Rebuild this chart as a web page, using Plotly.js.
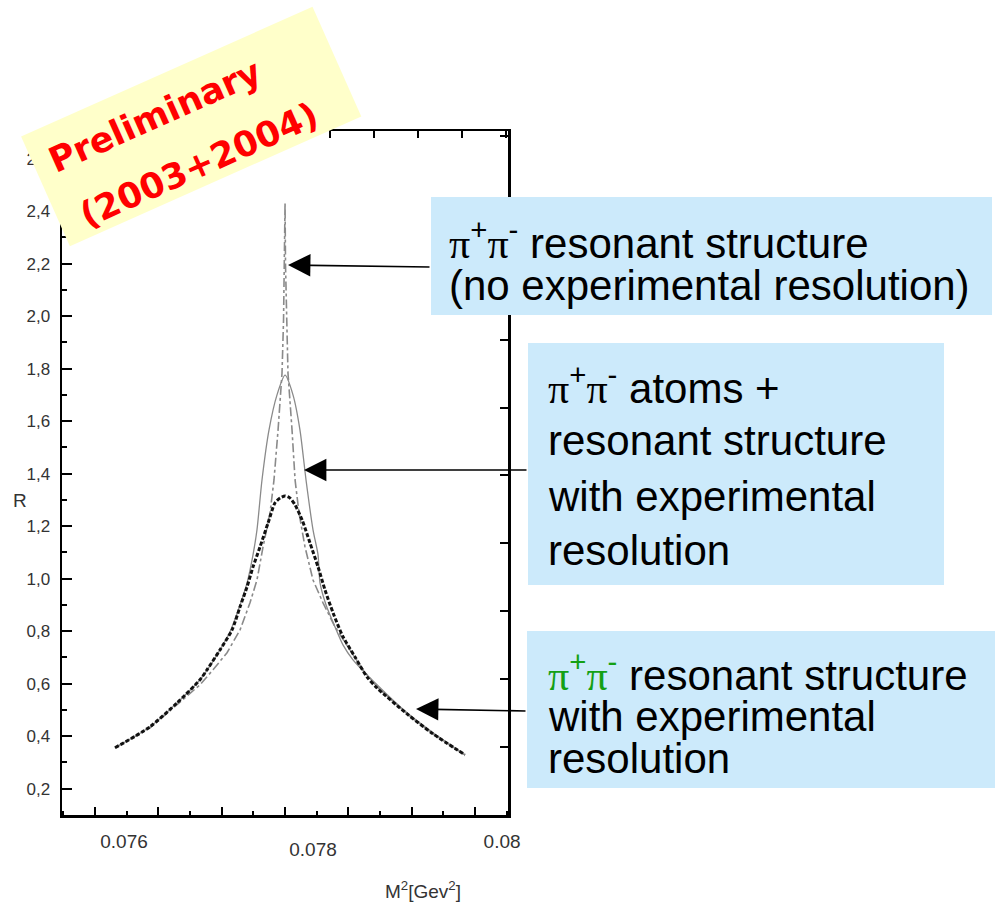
<!DOCTYPE html>
<html>
<head>
<meta charset="utf-8">
<script src="https://cdn.plot.ly/plotly-3.0.1.min.js"></script>
<style>html,body{margin:0;padding:0;background:#fff;}#chart{width:996px;height:908px;}</style>
</head>
<body>
<div id="chart"></div>
<script>
// ---------- data ----------
// pi+pi- atoms + resonant structure, with experimental resolution (thin solid grey)
const mSqAtoms = [0.075905,0.076275,0.076561,0.076804,0.076984,0.077122,0.077228,0.077302,0.077365,0.077407,0.077460,0.077534,0.077619,0.077704,0.077788,0.077862,0.077926,0.078000,0.078053,0.078074,0.078138,0.078233,0.078317,0.078423,0.078677,0.078995,0.079270,0.079608];
const rAtoms   = [0.356,0.436,0.527,0.615,0.710,0.798,0.900,0.984,1.091,1.186,1.376,1.566,1.700,1.775,1.700,1.566,1.376,1.186,1.091,0.984,0.900,0.816,0.748,0.691,0.596,0.489,0.413,0.329];
// pi+pi- resonant structure, with experimental resolution (thick black dashed)
const mSqRes = [0.075905,0.076275,0.076561,0.076804,0.076878,0.077016,0.077143,0.077228,0.077302,0.077365,0.077439,0.077524,0.077598,0.077651,0.077704,0.077757,0.077810,0.077884,0.077968,0.078053,0.078127,0.078212,0.078317,0.078444,0.078571,0.078677,0.078995,0.079270,0.079608];
const rRes   = [0.356,0.436,0.527,0.615,0.653,0.729,0.805,0.893,0.969,1.045,1.121,1.212,1.289,1.307,1.315,1.307,1.281,1.224,1.136,1.045,0.957,0.870,0.779,0.702,0.626,0.584,0.485,0.409,0.329];
// pi+pi- resonant structure, no experimental resolution (grey dash-dot cusp)
const mSqCusp = [0.075905,0.076275,0.076561,0.076804,0.076942,0.077090,0.077228,0.077333,0.077407,0.077471,0.077545,0.077587,0.077630,0.077672,0.077688,0.077698,0.077704,0.077709,0.077725,0.077735,0.077778,0.077810,0.077852,0.077915,0.078000,0.078106,0.078233,0.078392,0.078529,0.078677,0.078995,0.079270,0.079608];
const rCusp   = [0.356,0.432,0.520,0.596,0.653,0.718,0.805,0.908,0.995,1.121,1.250,1.376,1.566,1.783,1.985,2.194,2.430,2.194,1.985,1.783,1.566,1.376,1.250,1.121,0.995,0.908,0.816,0.729,0.653,0.588,0.485,0.409,0.329];

// tick labels
const xTickVals = [0.076, 0.08];
const xTickText = ['0.076', '0.08'];
const xTickValsLow = [0.078];
const xTickTextLow = ['0.078'];
const yTickVals = [0.2,0.4,0.6,0.8,1.0,1.2,1.4,1.6,1.8,2.0,2.2,2.4,2.6];
const yTickText = ['0,2','0,4','0,6','0,8','1,0','1,2','1,4','1,6','1,8','2,0','2,2','2,4','2,6'];

// ---------- layout helpers ----------
const L = 62, R = 508, T = 131, B = 815;
function PX(x){ return (x - L) / (R - L); }
function PY(y){ return (B - y) / (B - T); }
const xRange = [0.075344, 0.080063];
const yRange = [0.1, 2.705];
const tickFont = {family:'Liberation Sans, Arial, sans-serif', size:19, color:'#333'};

const traces = [
  {x: mSqCusp, y: rCusp, mode:'lines', line:{color:'#8a8a8a', width:1.6, dash:'dashdot'}, hoverinfo:'skip'},
  {x: mSqAtoms, y: rAtoms, mode:'lines', line:{color:'#8a8a8a', width:1.3, shape:'spline', smoothing:0.7}, hoverinfo:'skip'},
  {x: mSqRes, y: rRes, mode:'lines', line:{color:'#111', width:3, dash:'4px,2px', shape:'spline', smoothing:0.7}, hoverinfo:'skip'},
  // empty carriers so that the overlay axes (extra ticks / frame sides) are drawn
  {x: [], y: [], xaxis:'x2', yaxis:'y', mode:'lines', hoverinfo:'skip'},
  {x: [], y: [], xaxis:'x3', yaxis:'y', mode:'lines', hoverinfo:'skip'},
  {x: [], y: [], xaxis:'x4', yaxis:'y', mode:'lines', hoverinfo:'skip'},
  {x: [], y: [], xaxis:'x', yaxis:'y2', mode:'lines', hoverinfo:'skip'}
];

const PI = '<span style="font-family:Liberation Serif">π</span>';
const pipi = PI + '<sup>+</sup>' + PI + '<sup>-</sup>';
const pipiGreen = '<span style="color:#14a014">' + pipi + '</span>';

const textLines = [
  [pipi + ' resonant structure', 447, 240],
  ['(no experimental resolution)', 447, 285],
  [pipi + ' atoms +', 546, 385],
  ['resonant structure', 546, 440],
  ['with experimental', 546, 496],
  ['resolution', 546, 550],
  [pipiGreen + ' resonant structure', 546, 672],
  ['with experimental', 546, 716],
  ['resolution', 546, 758]
];

const annotations = [];
textLines.forEach(t => annotations.push({
  xref:'paper', yref:'paper', x:PX(t[1]), y:PY(t[2]), xanchor:'left', yanchor:'middle',
  text:t[0], showarrow:false, font:{family:'Liberation Sans, Arial, sans-serif', size:42, color:'#000'}
}));

// arrows [headX, headY, tailX, tailY]
[[288,265,431,267],[304,470,528,470],[416,709,527,711]].forEach(a => annotations.push({
  xref:'paper', yref:'paper', x:PX(a[0]), y:PY(a[1]), ax:a[2]-a[0], ay:a[3]-a[1],
  text:'', showarrow:true, arrowhead:2, arrowsize:2.8, arrowwidth:1.6, arrowcolor:'#000'
}));

// stamp
annotations.push({xref:'paper', yref:'paper', x:PX(191), y:PY(126), xanchor:'center', yanchor:'middle',
  text:' ', showarrow:false, width:318, height:119, borderpad:0, bgcolor:'#FFFFCA', textangle:-24});
annotations.push({xref:'paper', yref:'paper', x:PX(155), y:PY(116), xanchor:'center', yanchor:'middle',
  text:'Preliminary', showarrow:false, textangle:-24,
  font:{family:'DejaVu Sans, sans-serif', size:35, color:'#ff0000', weight:'bold'}});
annotations.push({xref:'paper', yref:'paper', x:PX(199), y:PY(165), xanchor:'center', yanchor:'middle',
  text:'(2003+2004)', showarrow:false, textangle:-24,
  font:{family:'DejaVu Sans, sans-serif', size:35, color:'#ff0000', weight:'bold'}});

// axis titles
annotations.push({xref:'paper', yref:'paper', x:PX(20), y:PY(500), xanchor:'center', yanchor:'middle',
  text:'R', showarrow:false, font:{family:'Liberation Sans, Arial, sans-serif', size:19, color:'#333'}});
annotations.push({xref:'paper', yref:'paper', x:PX(423), y:PY(890), xanchor:'center', yanchor:'middle',
  text:'M<sup>2</sup>[Gev<sup>2</sup>]', showarrow:false, font:{family:'Liberation Sans, Arial, sans-serif', size:19, color:'#333'}});

const boxColor = '#CCEAFB';
const shapes = [[431,197,992,315],[528,343,944,585],[527,631,995,788]].map(b => ({
  type:'rect', xref:'paper', yref:'paper', x0:PX(b[0]), x1:PX(b[2]), y0:PY(b[3]), y1:PY(b[1]),
  fillcolor:boxColor, line:{width:0}, layer:'above'
}));

const common = {range:xRange, showgrid:false, zeroline:false, fixedrange:true};
const layout = {
  width:996, height:908,
  margin:{l:L, r:996-R, t:T, b:908-B, pad:0},
  paper_bgcolor:'#fff', plot_bgcolor:'#fff',
  showlegend:false,
  xaxis: Object.assign({}, common, {anchor:'y', showline:true, linecolor:'#000', linewidth:2.5,
    ticks:'', tickmode:'array', tickvals:xTickVals, ticktext:xTickText, tickfont:tickFont, ticklabelstandoff:8}),
  xaxis2: Object.assign({}, common, {overlaying:'x', anchor:'y', side:'bottom', showline:false,
    ticks:'', tickmode:'array', tickvals:xTickValsLow, ticktext:xTickTextLow, tickfont:tickFont, ticklabelstandoff:21}),
  xaxis3: Object.assign({}, common, {overlaying:'x', anchor:'y', side:'bottom', showline:false,
    tickmode:'linear', tick0:0.075693, dtick:0.00067, ticks:'inside', ticklen:8, tickwidth:2, tickcolor:'#000',
    showticklabels:false, minor:{tick0:0.075693, dtick:0.000335, ticks:'inside', ticklen:4, tickwidth:2, tickcolor:'#000'}}),
  xaxis4: Object.assign({}, common, {overlaying:'x', anchor:'y', side:'top', showline:true, linecolor:'#000', linewidth:2.5,
    tickmode:'linear', tick0:0.07818, dtick:0.000466, ticks:'inside', ticklen:7, tickwidth:2, tickcolor:'#000', showticklabels:false}),
  yaxis: {range:yRange, showgrid:false, zeroline:false, fixedrange:true, anchor:'x',
    showline:true, linecolor:'#000', linewidth:2.5,
    ticks:'inside', ticklen:10, tickwidth:2, tickcolor:'#000',
    tickmode:'array', tickvals:yTickVals, ticktext:yTickText, tickfont:{family:'Liberation Sans, Arial, sans-serif', size:17, color:'#333'},
    ticklabelstandoff:6,
    minor:{tick0:0.1, dtick:0.2, ticks:'inside', ticklen:5, tickwidth:2, tickcolor:'#000'}},
  yaxis2: {range:yRange, overlaying:'y', anchor:'x', side:'right', showgrid:false, zeroline:false, fixedrange:true,
    showline:true, linecolor:'#000', linewidth:2.5,
    tickmode:'linear', tick0:0.1, dtick:0.2586, ticks:'inside', ticklen:8, tickwidth:2, tickcolor:'#000', showticklabels:false},
  shapes: shapes,
  annotations: annotations
};

Plotly.newPlot('chart', traces, layout, {displayModeBar:false, staticPlot:true});
</script>
</body>
</html>
